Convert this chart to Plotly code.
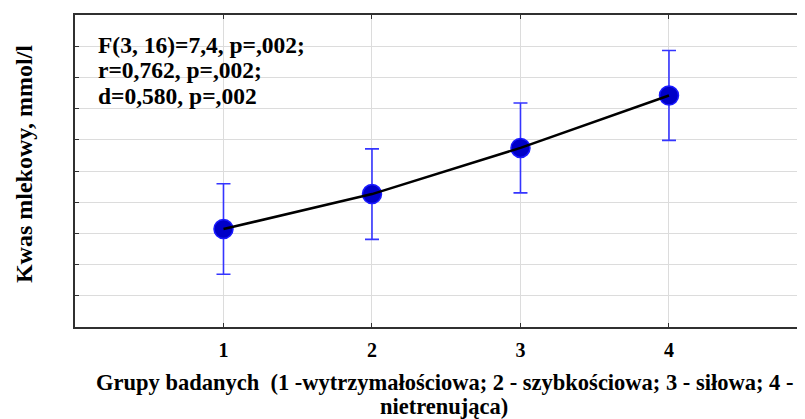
import plotly.graph_objects as go

groups = [1, 2, 3, 4]
means = [3.14, 4.26, 5.74, 7.42]
errors = [1.45, 1.45, 1.44, 1.44]
x_ticks = [1, 2, 3, 4]
x_labels = ["1", "2", "3", "4"]
stats_lines = ["F(3, 16)=7,4, p=,002;", "r=0,762, p=,002;", "d=0,580, p=,002"]
x_title_lines = ["Grupy badanych  (1 -wytrzymałościowa; 2 - szybkościowa; 3 - siłowa; 4 -", "nietrenująca)"]
y_title = "Kwas mlekowy, mmol/l"

FONT = "Liberation Serif"

# plot area in screen pixels: x 75..805, y 13..327
def py(screen_y):
    return (327 - screen_y) / 314.0

def px(screen_x):
    return (screen_x - 75) / 730.0

fig = go.Figure()
fig.add_trace(go.Scatter(
    x=groups, y=means, mode="markers",
    marker=dict(size=19, color="#0000C8", line=dict(color="#1a1aff", width=1.5)),
    error_y=dict(type="data", array=errors, visible=True, color="#3535ff", thickness=1.6, width=7),
    showlegend=False, hoverinfo="skip",
))
fig.add_trace(go.Scatter(
    x=groups, y=means, mode="lines",
    line=dict(color="black", width=2.5),
    showlegend=False, hoverinfo="skip",
))

fig.update_layout(
    width=805, height=419,
    margin=dict(l=67, r=8, t=5, b=100),
    plot_bgcolor="white", paper_bgcolor="white",
    font=dict(family=FONT, color="black"),
    xaxis=dict(
        range=[0, 4.916], tickvals=x_ticks, ticktext=x_labels,
        showgrid=True, gridcolor="#dcdcdc", gridwidth=1,
        zeroline=False, showline=True, linecolor="#303030", linewidth=2,
        mirror="ticks", ticks="inside", ticklen=4, tickcolor="#303030",
        ticklabelstandoff=4,
        tickfont=dict(family=FONT, size=20, color="black", weight="bold"),
    ),
    yaxis=dict(
        range=[0, 10], dtick=1, tick0=0,
        showgrid=True, gridcolor="#dcdcdc", gridwidth=1,
        zeroline=False, showline=True, linecolor="#303030", linewidth=2,
        ticks="inside", ticklen=4, tickcolor="#303030",
        showticklabels=False,
    ),
)

for text, sy in zip(x_title_lines, [383, 407]):
    fig.add_annotation(
        xref="paper", yref="paper", x=px(444), y=py(sy), xanchor="center", yanchor="middle",
        text=text, showarrow=False,
        font=dict(family=FONT, size=22.5, color="black", weight="bold"),
    )
fig.add_annotation(
    xref="paper", yref="paper", x=px(24), y=py(163), xanchor="center", yanchor="middle",
    text=y_title, showarrow=False, textangle=-90,
    font=dict(family=FONT, size=24, color="black", weight="bold"),
)
for text, sy in zip(stats_lines, [43, 68.5, 94.5]):
    fig.add_annotation(
        xref="paper", yref="paper", x=px(96), y=py(sy), xanchor="left", yanchor="middle",
        text=text, showarrow=False,
        font=dict(family=FONT, size=23.5, color="black", weight="bold"),
    )

fig.write_html("out.html")
